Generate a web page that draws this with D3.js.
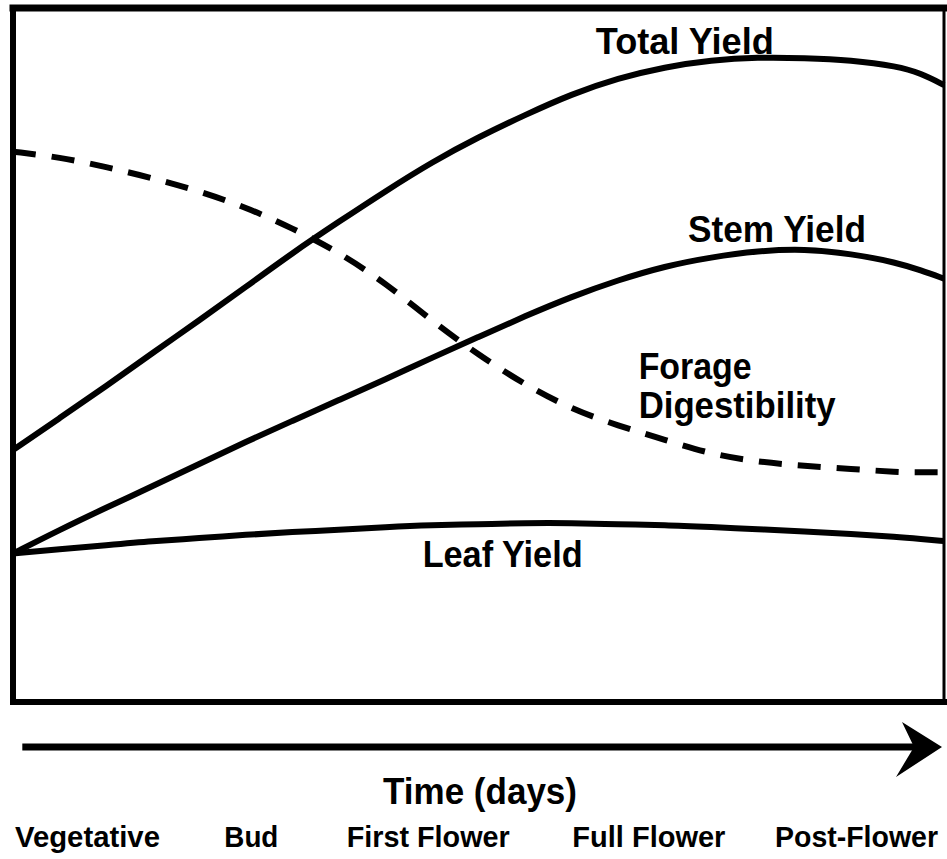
<!DOCTYPE html>
<html>
<head>
<meta charset="utf-8">
<script src="https://cdn.jsdelivr.net/npm/d3@7"></script>
<style>
  body { margin: 0; background: #ffffff; }
  text { font-family: "Liberation Sans", Arial, Helvetica, sans-serif; font-weight: bold; fill: #000; }
</style>
</head>
<body>
<div id="chart"></div>
<script>
// time axis (relative, 0 = vegetative start, 100 = end of post-flower)
var days = [0, 5, 10, 15, 20, 25, 30, 35, 40, 45, 50, 55, 60, 65, 70, 75, 80, 85, 90, 95, 97.5, 100]

// relative amounts (0 = bottom of box, 100 = top)
var totalYield = [36.3, 40.9, 45.5, 50.3, 55.0, 59.8, 64.7, 69.2, 73.6, 77.8, 81.4, 84.6, 87.6, 89.9, 91.5, 92.5, 92.9, 92.8, 92.5, 91.6, 90.6, 88.9]
var stemYield = [21.4, 24.8, 28.0, 31.1, 34.3, 37.5, 40.5, 43.5, 46.5, 49.6, 52.6, 55.6, 58.4, 60.8, 62.8, 64.1, 65.0, 65.3, 64.6, 63.3, 62.2, 61.0]
var leafYield = [21.4, 22.0, 22.6, 23.2, 23.6, 24.1, 24.5, 24.8, 25.2, 25.5, 25.6, 25.8, 25.8, 25.6, 25.5, 25.2, 24.9, 24.6, 24.2, 23.8, 23.5, 23.2]
var digestibility = [79.3, 78.5, 77.1, 75.5, 73.6, 71.3, 68.3, 64.8, 60.4, 54.9, 50.0, 45.7, 42.2, 39.8, 37.8, 35.7, 34.6, 34.0, 33.6, 33.1, 33.1, 33.1]

// growth stages along the time arrow
var stages = ["Vegetative", "Bud", "First Flower", "Full Flower", "Post-Flower"]
var stageDay = [8.0, 25.6, 44.6, 68.3, 90.6]

// curve labels: text, day, level
var labelText = ["Total Yield", "Stem Yield", "Forage", "Digestibility", "Leaf Yield"]
var labelDay = [62.6, 72.5, 67.2, 67.2, 44.0]
var labelLevel = [93.4, 66.3, 46.6, 40.9, 19.4]
var labelWidth = [178, 178, 113, 197, 160]

var widthSvg = 947
var heightSvg = 859
var boxLeft = 13, boxRight = 944, boxTop = 8, boxBottom = 702

var svg = d3.select("#chart")
  .append("svg")
  .attr("width", widthSvg)
  .attr("height", heightSvg)

var x = d3.scaleLinear().domain([0, 100]).range([boxLeft, boxRight])
var y = d3.scaleLinear().domain([0, 100]).range([boxBottom, boxTop])

// line generator shared by all four curves
var line = d3.line()
  .x(function(d) { return x(d[0]) })
  .y(function(d) { return y(d[1]) })
  .curve(d3.curveBasis)

var series = [
  { values: totalYield, dash: null },
  { values: stemYield, dash: null },
  { values: leafYield, dash: null },
  { values: digestibility, dash: "23,16" }
]

svg.selectAll(".curve")
  .data(series)
  .enter()
  .append("path")
  .attr("class", "curve")
  .attr("d", function(s) { return line(days.map(function(t, i) { return [t, s.values[i]] })) })
  .attr("fill", "none")
  .attr("stroke", "#000")
  .attr("stroke-width", 6)
  .attr("stroke-dasharray", function(s) { return s.dash })

// frame round the plot (right edge is clipped thin in the original)
var frame = svg.append("g").attr("stroke", "#000").attr("stroke-linecap", "square")
frame.append("line").attr("x1", x(0)).attr("x2", x(0)).attr("y1", y(100)).attr("y2", y(0)).attr("stroke-width", 6)
frame.append("line").attr("x1", x(0)).attr("x2", x(100)).attr("y1", y(100)).attr("y2", y(100)).attr("stroke-width", 7)
frame.append("line").attr("x1", x(0)).attr("x2", x(100)).attr("y1", y(0)).attr("y2", y(0)).attr("stroke-width", 6)
frame.append("line").attr("x1", x(100)).attr("x2", x(100)).attr("y1", y(100)).attr("y2", y(0)).attr("stroke-width", 3)

// curve labels
svg.selectAll(".label")
  .data(labelText)
  .enter()
  .append("text")
  .attr("class", "label")
  .attr("x", function(d, i) { return x(labelDay[i]) })
  .attr("y", function(d, i) { return y(labelLevel[i]) })
  .attr("font-size", 36)
  .attr("textLength", function(d, i) { return labelWidth[i] })
  .attr("lengthAdjust", "spacingAndGlyphs")
  .text(function(d) { return d })

// time arrow
var arrowY = 747
svg.append("line")
  .attr("x1", x(1)).attr("x2", 916)
  .attr("y1", arrowY).attr("y2", arrowY)
  .attr("stroke", "#000")
  .attr("stroke-width", 7)

svg.append("path")
  .attr("d", "M942," + arrowY + " L902," + (arrowY - 25) + " L914," + arrowY + " L896," + (arrowY + 30) + " Z")
  .attr("fill", "#000")

svg.append("text")
  .attr("x", 383)
  .attr("y", 804)
  .attr("font-size", 36)
  .attr("textLength", 194)
  .attr("lengthAdjust", "spacingAndGlyphs")
  .text("Time (days)")

// stage names under the arrow
var stageWidth = [145, 54, 163, 153, 163]
svg.selectAll(".stage")
  .data(stages)
  .enter()
  .append("text")
  .attr("class", "stage")
  .attr("x", function(d, i) { return x(stageDay[i]) })
  .attr("y", 847)
  .attr("text-anchor", "middle")
  .attr("font-size", 29)
  .attr("textLength", function(d, i) { return stageWidth[i] })
  .attr("lengthAdjust", "spacingAndGlyphs")
  .text(function(d) { return d })
</script>
</body>
</html>
